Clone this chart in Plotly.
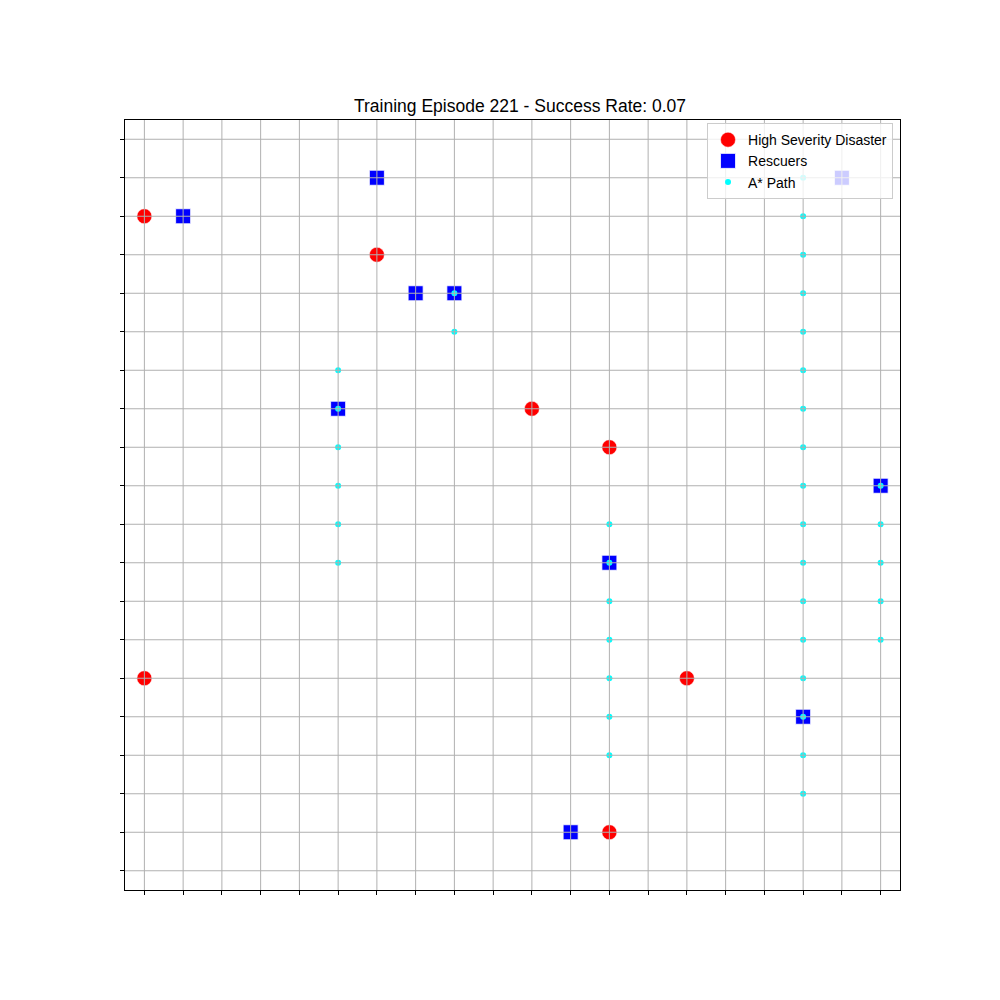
import plotly.graph_objects as go

# ---- data ----
grid_ticks = list(range(20))

disaster_x = [0, 6, 10, 12, 0, 14, 12]
disaster_y = [17, 16, 12, 11, 5, 5, 1]

rescuer_x = [6, 18, 1, 7, 8, 5, 19, 12, 17, 11]
rescuer_y = [18, 18, 17, 15, 15, 12, 10, 8, 4, 1]

path_x = ([17] * 17) + [8, 8] + [5] * 6 + [12] * 7 + [19] * 5
path_y = (list(range(18, 1, -1)) + [15, 14] + [13, 12, 11, 10, 9, 8]
          + [9, 8, 7, 6, 5, 4, 3] + [10, 9, 8, 7, 6])

title_text = "Training Episode 221 - Success Rate: 0.07"

fig = go.Figure()

fig.add_trace(go.Scatter(
    x=disaster_x, y=disaster_y, mode="markers", name="High Severity Disaster",
    marker=dict(symbol="circle", size=15, color="#ff0000",
                line=dict(color="white", width=0.5))))

fig.add_trace(go.Scatter(
    x=rescuer_x, y=rescuer_y, mode="markers", name="Rescuers",
    marker=dict(symbol="square", size=15, color="#0000ff",
                line=dict(color="white", width=0.8))))

fig.add_trace(go.Scatter(
    x=path_x, y=path_y, mode="markers", name="A* Path",
    marker=dict(symbol="circle", size=6, color="#00ffff", line=dict(width=0))))

# grid drawn above markers (like matplotlib default zorder)
for t in grid_ticks:
    fig.add_shape(type="line", xref="x", yref="paper", x0=t, x1=t, y0=0, y1=1,
                  line=dict(color="#b0b0b0", width=1), layer="above")
    fig.add_shape(type="line", xref="paper", yref="y", x0=0, x1=1, y0=t, y1=t,
                  line=dict(color="#b0b0b0", width=1), layer="above")

axis_common = dict(
    range=[-0.5, 19.5], tickmode="array", tickvals=grid_ticks,
    showticklabels=False, ticks="outside", ticklen=4, tickwidth=1,
    tickcolor="black", showgrid=False, zeroline=False, automargin=False,
    showline=True, linecolor="black", linewidth=1, mirror=True,
)

fig.update_layout(
    width=1000, height=1000,
    margin=dict(l=117, r=108, t=112, b=118),
    paper_bgcolor="white", plot_bgcolor="white",
    font=dict(family="Liberation Sans, Arial, sans-serif", color="black"),
    title=dict(text=title_text, x=0.512, xanchor="center", y=0.896,
               yanchor="bottom", font=dict(size=17.5, color="black")),
    xaxis=axis_common,
    yaxis=axis_common,
    showlegend=True,
    legend=dict(x=0.991, y=0.996, xanchor="right", yanchor="top",
                bgcolor="rgba(255,255,255,0.8)", bordercolor="#cccccc",
                borderwidth=1, font=dict(size=14), tracegroupgap=0,
                itemsizing="trace"),
)

fig.write_html("out.html")
